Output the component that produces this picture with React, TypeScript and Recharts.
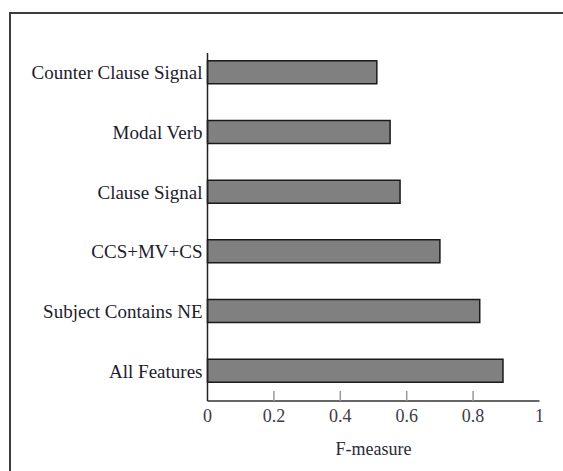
import { BarChart, Bar, XAxis, YAxis } from 'recharts';

const categories = [
  'Counter Clause Signal',
  'Modal Verb',
  'Clause Signal',
  'CCS+MV+CS',
  'Subject Contains NE',
  'All Features',
];
const fMeasure = [0.51, 0.55, 0.58, 0.7, 0.82, 0.89];
const xTicks = [0, 0.2, 0.4, 0.6, 0.8, 1];

const data = categories.map((name, i) => ({ name, value: fMeasure[i] }));

const FONT = '"Liberation Serif", "DejaVu Serif", serif';

function XTick(props: any) {
  const { x, y, payload } = props;
  const v = payload.value as number;
  return (
    <g>
      {v > 0 && v < 1 && (
        <line x1={x} x2={x} y1={y - 10} y2={y} stroke="#999" strokeWidth={1.5} />
      )}
      <text
        x={x}
        y={y + 21}
        textAnchor="middle"
        fontFamily={FONT}
        fontSize={18}
        fill="#3a3a4a"
      >
        {String(v)}
      </text>
    </g>
  );
}

export default function App() {
  return (
    <div style={{ position: 'absolute', left: 0, top: 0, width: 563, height: 471, background: '#fff' }}>
      <div
        style={{
          position: 'absolute',
          left: 9,
          top: 12,
          right: 0,
          bottom: 0,
          borderLeft: '2px solid #3c3c3c',
          borderTop: '2px solid #3c3c3c',
        }}
      />
      <div style={{ position: 'absolute', left: 0, top: 0 }}>
        <BarChart
          width={563}
          height={471}
          data={data}
          layout="vertical"
          margin={{ top: 53, right: 23.5, bottom: 10, left: 0 }}
        >
          <XAxis
            type="number"
            domain={[0, 1]}
            ticks={xTicks}
            height={60}
            tickSize={0}
            tickMargin={0}
            tickLine={false}
            axisLine={{ stroke: '#333', strokeWidth: 1.5 }}
            tick={<XTick />}
            label={{
              value: 'F-measure',
              position: 'insideBottom',
              offset: 6,
              style: { fontFamily: FONT, fontSize: 18, fill: '#2a2a3a' },
            }}
          />
          <YAxis
            type="category"
            dataKey="name"
            width={207.5}
            padding={{ top: -10.3, bottom: 0 }}
            tickLine={false}
            tickSize={0}
            tickMargin={5}
            axisLine={{ stroke: '#222', strokeWidth: 1.5 }}
            tick={{ fontFamily: FONT, fontSize: 19, fill: '#1c1c2c' }}
          />
          <Bar
            dataKey="value"
            fill="#808080"
            stroke="#1a1a1a"
            strokeWidth={1.5}
            barSize={23}
            isAnimationActive={false}
          />
        </BarChart>
      </div>
    </div>
  );
}
